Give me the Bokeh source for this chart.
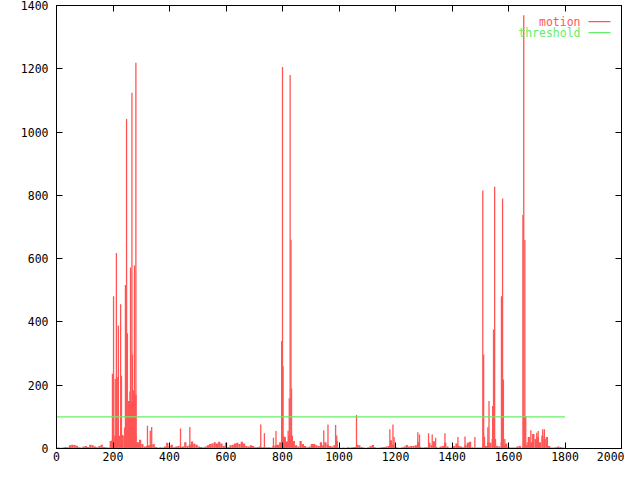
from bokeh.plotting import figure
from bokeh.models import Range1d, LinearAxis, FixedTicker, Label, ColumnDataSource
from bokeh.embed import file_html
from bokeh.resources import INLINE

# ---------------- data ----------------
frame_step = 8
base_frames = list(range(0, 1801, frame_step))
base_motion = [
    4, 3, 2, 3, 5, 4, 10, 12, 11, 9, 4, 3, 6, 8, 5, 12, 10, 6, 4, 8,
    12, 5, 4, 3, 24, 30, 40, 30, 40, 43, 40, 60, 150, 150, 180, 170, 20, 28, 14, 6,
    8, 10, 12, 14, 5, 3, 4, 3, 6, 18, 8, 12, 4, 6, 8, 5, 6, 20, 8, 12,
    22, 15, 12, 6, 5, 4, 6, 10, 14, 16, 20, 16, 21, 16, 8, 18, 5, 10, 12, 16,
    18, 14, 21, 16, 8, 6, 10, 8, 4, 5, 6, 4, 5, 4, 4, 3, 8, 10, 12, 20,
    30, 36, 22, 40, 40, 24, 10, 6, 24, 14, 8, 4, 6, 14, 14, 10, 8, 20, 10, 20,
    12, 8, 6, 10, 24, 3, 2, 3, 2, 4, 3, 4, 5, 12, 10, 5, 3, 2, 4, 8,
    11, 4, 2, 3, 4, 5, 6, 8, 26, 12, 5, 3, 2, 4, 6, 11, 6, 8, 8, 10,
    20, 5, 3, 4, 4, 18, 10, 23, 5, 3, 6, 8, 18, 6, 2, 3, 8, 16, 8, 6,
    4, 10, 18, 21, 4, 2, 3, 3, 3, 10, 8, 20, 18, 30, 12, 8, 6, 20, 10, 16,
    5, 3, 3, 3, 6, 8, 3, 100, 10, 36, 20, 46, 30, 36, 20, 41, 30, 36, 8, 3,
    3, 4, 6, 5, 3, 2,
]
peak_frames = [
    196, 198, 202, 205, 208, 212, 215, 219, 227, 230, 241, 244, 248, 251, 257, 260,
    262, 267, 269, 272, 276, 281, 284,
    322, 332, 337, 439, 472, 723, 736, 768, 777,
    797, 800, 802, 804, 808, 820, 824, 827, 830, 832, 835,
    946, 961, 988, 992, 1062, 1180, 1191, 1195, 1279, 1285, 1317, 1330, 1342, 1375,
    1421, 1446, 1481,
    1509, 1512, 1515, 1527, 1531, 1544, 1547, 1551, 1554, 1575, 1579, 1582, 1587,
    1651, 1654, 1658, 1661, 1666,
    1679, 1686, 1700, 1705, 1721, 1727,
]
peak_motion = [
    25, 236, 481, 15, 220, 618, 226, 389, 456, 230, 66, 517, 1041, 364, 150, 180,
    572, 1124, 297, 184, 578, 1219, 20,
    72, 56, 68, 63, 68, 76, 48, 34, 55,
    340, 1206, 260, 40, 36, 56, 159, 1180, 660, 190, 40,
    58, 76, 74, 41, 106, 61, 76, 36, 51, 44, 48, 44, 34, 48,
    36, 38, 36,
    815, 297, 37, 67, 150, 134, 376, 827, 30, 481, 790, 218, 30,
    738, 1369, 659, 103, 20,
    58, 46, 50, 55, 61, 61,
]
threshold_frames = [0, 1800]
threshold_values = [100, 100]

x_ticks = [0, 200, 400, 600, 800, 1000, 1200, 1400, 1600, 1800, 2000]
y_ticks = [0, 200, 400, 600, 800, 1000, 1200, 1400]

series_names = ["motion", "threshold"]
motion_color = "#ff5555"
threshold_color = "#66ee66"
mono = "DejaVu Sans Mono"
fsize = "11.5px"

# ---------------- figure ----------------
p = figure(width=624, height=464, output_backend="svg", toolbar_location=None,
           x_range=Range1d(0, 2000), y_range=Range1d(0, 1400),
           min_border_left=56, min_border_right=3, min_border_top=5,
           min_border_bottom=16)
p.xgrid.visible = False
p.ygrid.visible = False
p.outline_line_color = "black"
p.outline_line_width = 1
p.outline_line_alpha = 1
p.background_fill_color = "white"
p.border_fill_color = "white"

base_src = ColumnDataSource(dict(x=base_frames, top=base_motion))
peak_src = ColumnDataSource(dict(x=peak_frames, top=peak_motion))
p.vbar(x="x", top="top", bottom=0, width=frame_step, source=base_src,
       fill_color=motion_color, line_color=None)
p.vbar(x="x", top="top", bottom=0, width=4.6, source=peak_src,
       fill_color=motion_color, line_color=None)
p.line(threshold_frames, threshold_values, line_color=threshold_color, line_width=1.2)

# axes styling (gnuplot-like inward ticks, mirrored)
for ax in (p.xaxis[0], p.yaxis[0]):
    ax.major_tick_in = 6
    ax.major_tick_out = 0
    ax.minor_tick_in = 0
    ax.minor_tick_out = 0
    ax.axis_line_color = "black"
    ax.major_tick_line_color = "black"
    ax.major_label_text_font = mono
    ax.major_label_text_font_size = fsize
    ax.major_label_text_color = "black"
p.xaxis[0].ticker = FixedTicker(ticks=x_ticks)
p.yaxis[0].ticker = FixedTicker(ticks=y_ticks)
p.yaxis[0].major_label_standoff = 8
p.xaxis[0].major_label_standoff = 3

right_ax = LinearAxis(ticker=FixedTicker(ticks=y_ticks))
top_ax = LinearAxis(ticker=FixedTicker(ticks=x_ticks))
for ax in (right_ax, top_ax):
    ax.major_tick_in = 6
    ax.major_tick_out = 0
    ax.minor_tick_in = 0
    ax.minor_tick_out = 0
    ax.major_label_text_font_size = "1px"
    ax.major_label_text_color = None
    ax.major_label_standoff = 0
    ax.axis_line_color = "black"
    ax.major_tick_line_color = "black"
p.add_layout(right_ax, "right")
p.add_layout(top_ax, "above")

# ---------------- key (gnuplot style: text then sample line) ----------------
key_text_x = 1855
key_line_x = [1883, 1961]
key_rows_y = [1349, 1314]
key_colors = [motion_color, threshold_color]
for name, ky, col in zip(series_names, key_rows_y, key_colors):
    p.add_layout(Label(x=key_text_x, y=ky, text=name, text_align="right",
                       text_baseline="middle", text_color=col,
                       text_font=mono, text_font_size=fsize))
    p.line(key_line_x, [ky, ky], line_color=col, line_width=1.2)

open("out.html", "w").write(file_html(p, INLINE))
